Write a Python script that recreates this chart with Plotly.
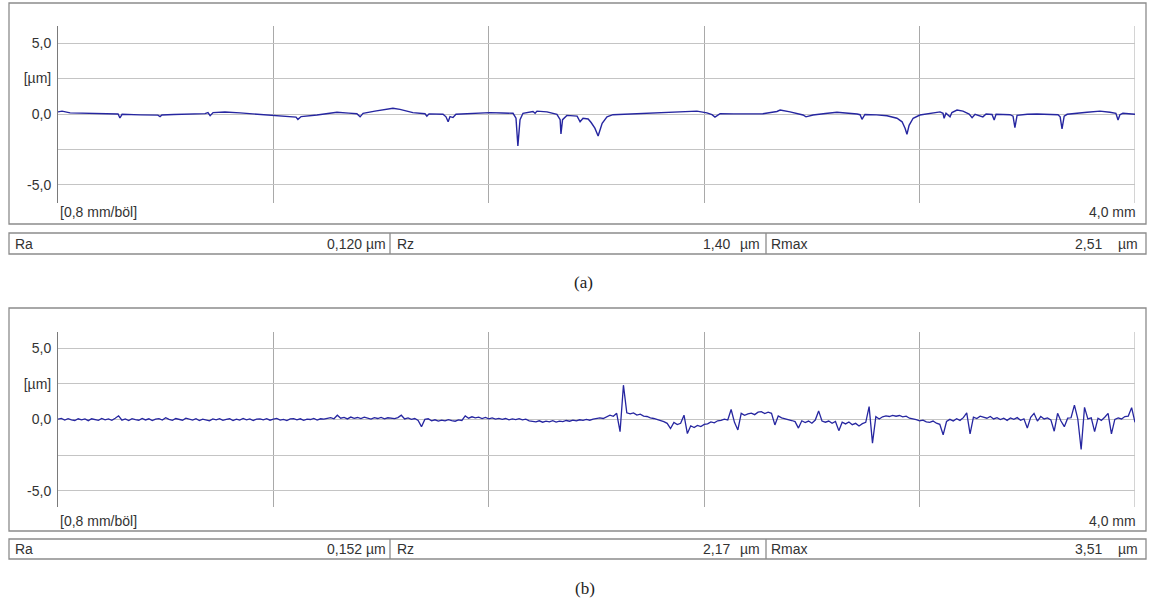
import plotly.graph_objects as go

W, H = 1149, 606

# ---------------- data ----------------
# Profile (a): position along trace [mm] and height [µm]
a_x = [0.000, 0.015, 0.045, 0.100, 0.156, 0.223, 0.230, 0.238, 0.305, 0.371, 0.379, 0.386,
       0.430, 0.472, 0.546, 0.557, 0.565, 0.576, 0.620, 0.676, 0.750, 0.799, 0.843, 0.884,
       0.891, 0.903, 0.962, 1.000, 1.036, 1.080, 1.110, 1.122, 1.133, 1.177, 1.214, 1.244,
       1.270, 1.318, 1.363, 1.370, 1.378, 1.430, 1.441, 1.449, 1.456, 1.467, 1.478, 1.530,
       1.604, 1.650, 1.690, 1.701, 1.708, 1.716, 1.727, 1.764, 1.772, 1.779, 1.816, 1.853,
       1.865, 1.868, 1.874, 1.890, 1.928, 1.939, 1.950, 1.969, 1.980, 1.994, 2.006, 2.021,
       2.039, 2.061, 2.120, 2.188, 2.250, 2.310, 2.373, 2.410, 2.429, 2.440, 2.459, 2.510,
       2.559, 2.618, 2.670, 2.682, 2.719, 2.767, 2.778, 2.804, 2.850, 2.893, 2.968, 2.979,
       2.986, 2.997, 3.040, 3.079, 3.116, 3.135, 3.146, 3.153, 3.161, 3.176, 3.201, 3.239,
       3.276, 3.287, 3.291, 3.298, 3.313, 3.320, 3.339, 3.361, 3.384, 3.395, 3.406, 3.435,
       3.447, 3.469, 3.477, 3.484, 3.536, 3.547, 3.554, 3.562, 3.600, 3.636, 3.680, 3.714,
       3.722, 3.729, 3.737, 3.748, 3.822, 3.870, 3.907, 3.929, 3.937, 3.944, 3.955, 4.000]
a_y = [0.15, 0.20, 0.08, 0.05, 0.03, 0.00, -0.28, -0.02, -0.06, -0.08, -0.18, -0.07,
       -0.04, -0.02, 0.03, 0.10, -0.12, 0.10, 0.14, 0.08, -0.03, -0.12, -0.20, -0.22,
       -0.38, -0.18, -0.07, 0.02, 0.12, 0.06, 0.02, -0.20, 0.05, 0.20, 0.30, 0.40,
       0.33, 0.10, 0.02, -0.15, 0.01, -0.02, -0.20, -0.55, -0.18, -0.25, -0.02, 0.05,
       0.10, 0.07, 0.05, -0.30, -2.25, -0.40, 0.05, 0.18, 0.05, 0.20, 0.15, -0.02,
       -0.40, -1.40, -0.40, -0.10, -0.15, -0.55, -0.30, -0.35, -0.60, -1.00, -1.55, -0.65,
       -0.20, -0.05, 0.00, 0.03, 0.08, 0.15, 0.20, 0.08, -0.05, -0.22, 0.02, 0.01,
       0.00, 0.02, 0.18, 0.28, 0.15, -0.07, -0.20, -0.07, 0.04, 0.12, 0.00, -0.05,
       -0.37, -0.03, -0.06, -0.12, -0.30, -0.55, -1.00, -1.43, -0.80, -0.30, -0.07, 0.05,
       0.15, 0.05, -0.30, 0.05, -0.20, 0.10, 0.28, 0.20, 0.00, -0.26, -0.02, -0.20,
       0.00, -0.03, -0.42, -0.02, -0.05, -0.15, -0.96, -0.10, -0.02, 0.00, -0.03, -0.05,
       -0.20, -1.05, -0.15, -0.02, 0.12, 0.20, 0.12, 0.05, -0.42, -0.05, 0.05, -0.02]

# Profile (b): height [µm], sampled every 0.0125 mm over 4.0 mm
b_step_mm = 0.0125
b_y = [
    0.03, 0.08, -0.04, 0.06, -0.02, -0.07, 0.05, -0.03, 0.04, -0.08, 0.05, 0.01, -0.06, 0.07, -0.03, 0.04, -0.06, 0.09, 0.26, -0.05,
    0.04, -0.07, 0.06, -0.01, -0.05, 0.08, -0.03, 0.05, -0.08, 0.02, 0.06, -0.04, 0.13, 0.01, -0.06, 0.07, 0.02, -0.05, 0.09, 0.01,
    -0.04, 0.06, -0.07, 0.03, -0.01, -0.09, 0.04, -0.03, 0.06, -0.06, 0.01, 0.05, -0.08, 0.03, -0.04, 0.07, -0.02, 0.04, -0.07, 0.03,
    0.05, -0.03, 0.06, -0.05, 0.02, 0.08, -0.04, 0.01, -0.07, 0.04, 0.06, -0.03, 0.05, -0.06, 0.03, 0.00, 0.07, -0.04, 0.05, 0.02,
    0.08, 0.13, 0.05, 0.30, 0.09, 0.15, 0.04, 0.17, 0.08, 0.14, 0.06, 0.16, 0.10, 0.03, 0.13, 0.07, 0.15, 0.05, 0.12, 0.08,
    0.06, 0.13, 0.30, 0.04, 0.11, 0.01, 0.07, -0.06, -0.50, 0.01, 0.05, -0.09, -0.02, -0.11, -0.04, -0.10, -0.01, -0.08, -0.12, -0.03,
    -0.07, 0.25, 0.09, 0.19, 0.11, 0.16, 0.07, 0.14, 0.05, 0.11, 0.03, 0.08, 0.01, 0.07, -0.02, 0.04, -0.01, 0.06, -0.03, 0.02,
    -0.09, -0.13, -0.17, -0.09, -0.19, -0.12, -0.16, -0.08, -0.18, -0.11, -0.15, -0.07, -0.12, -0.05, -0.10, -0.02, -0.06, 0.01, -0.05, 0.03,
    0.05, 0.11, 0.07, 0.21, 0.30, 0.22, 0.43, -0.85, 2.40, 0.47, 0.39, 0.46, 0.31, 0.37, 0.24, 0.21, 0.11, 0.07, 0.01, -0.06,
    -0.15, -0.27, -0.63, -0.21, -0.36, -0.27, 0.30, -0.98, -0.44, -0.56, -0.41, -0.49, -0.34, -0.31, -0.17, -0.23, -0.09, -0.06, 0.03, -0.04,
    0.70, -0.20, -0.73, 0.43, 0.29, 0.39, 0.45, 0.34, 0.51, 0.55, 0.41, 0.51, 0.43, -0.38, 0.25, 0.11, 0.06, -0.01, -0.07, -0.15,
    -0.60, -0.09, -0.21, -0.11, -0.26, -0.04, 0.60, -0.11, -0.19, -0.11, -0.26, -0.14, -0.78, -0.19, -0.31, -0.17, -0.36, -0.27, -0.45, -0.29,
    -0.20, 0.90, -1.65, 0.20, 0.04, 0.19, 0.25, 0.21, 0.29, 0.23, 0.28, 0.19, 0.23, 0.09, 0.06, -0.01, -0.09, -0.04, -0.16, -0.20,
    -0.11, -0.26, -0.34, -1.07, -0.14, 0.01, -0.11, 0.06, -0.06, 0.13, 0.47, -1.00, 0.16, 0.07, 0.23, 0.17, 0.09, 0.21, 0.04, 0.13,
    0.00, 0.09, -0.06, 0.11, 0.01, 0.13, -0.06, 0.05, -0.60, 0.16, 0.43, -0.11, 0.21, 0.04, 0.11, -0.03, -0.82, 0.43, -0.11, -0.50,
    0.09, 0.12, 1.00, 0.05, -2.10, 0.85, 0.04, 0.11, -0.85, 0.09, -0.06, 0.16, 0.43, -1.00, 0.01, 0.11, 0.04, 0.21, 0.24, 0.83, -0.20,
]
b_x = [round(i * b_step_mm, 4) for i in range(len(b_y))]

# ticks / labels
x_grid_mm = [0.8, 1.6, 2.4, 3.2, 4.0]
y_tick_vals = [5.0, 2.5, 0.0, -2.5, -5.0]
y_tick_text = ["5,0", "[µm]", "0,0", "", "-5,0"]
scale_label = "[0,8 mm/böl]"
length_label = "4,0 mm"
stat_names = ["Ra", "Rz", "Rmax"]
stats_a = ["0,120", "1,40", "2,51"]
stats_b = ["0,152", "2,17", "3,51"]
unit = "µm"
panel_captions = ["(a)", "(b)"]

# ---------------- styling ----------------
LINE_COLOR = "#2626a0"
TEXT = "#333333"
BORDER = "#8c8c8c"
SANS = "Liberation Sans, Arial, sans-serif"
SERIF = "Liberation Serif, Times New Roman, serif"
FS = 14


def fx(x):
    return x / W


def fy(y):
    return 1 - y / H


fig = go.Figure()
fig.add_trace(go.Scatter(x=a_x, y=a_y, mode="lines", xaxis="x", yaxis="y",
                         line=dict(color=LINE_COLOR, width=1.4), hoverinfo="skip"))
fig.add_trace(go.Scatter(x=b_x, y=b_y, mode="lines", xaxis="x2", yaxis="y2",
                         line=dict(color=LINE_COLOR, width=1.3), hoverinfo="skip"))

# panel geometry (px, from top)
panels = [
    dict(box=(9, 3, 1146, 224), axis=(26, 203), yr=[-6.27, 6.2], lab=212,
         stat=(9, 233, 1146, 254), cap=(583, 282), vals=stats_a),
    dict(box=(9, 308, 1146, 531), axis=(332, 507), yr=[-6.12, 6.12], lab=521,
         stat=(9, 539, 1146, 559), cap=(585, 588), vals=stats_b),
]

x_dom = [fx(58), fx(1135)]
layout_axes = {}
shapes = []
annotations = []
for k, p in enumerate(panels):
    sx = "" if k == 0 else "2"
    layout_axes["xaxis" + sx] = dict(
        domain=x_dom, range=[0, 4.0], tickvals=x_grid_mm, showticklabels=False,
        showgrid=True, gridcolor="#a9a9a9", gridwidth=1, zeroline=False,
        showline=False, ticks="", anchor="y" + sx, fixedrange=True)
    layout_axes["yaxis" + sx] = dict(
        domain=[fy(p["axis"][1]), fy(p["axis"][0])], range=p["yr"],
        tickvals=y_tick_vals, ticktext=y_tick_text, showgrid=True,
        gridcolor="#c4c4c4", gridwidth=1, zeroline=False, showline=True,
        linecolor="#7a7a7a", linewidth=1, ticks="outside", ticklen=3,
        tickcolor="rgba(0,0,0,0)", tickfont=dict(family=SANS, size=FS, color=TEXT),
        anchor="x" + sx, fixedrange=True)

    # right-end vertical line at 4,0 mm
    shapes.append(dict(type="line", xref="x" + sx, yref="y" + sx + " domain", x0=4.0, x1=4.0,
                       y0=0, y1=1, line=dict(color="#a9a9a9", width=1), layer="below"))

    x0, y0, x1, y1 = p["box"]
    shapes.append(dict(type="rect", xref="paper", yref="paper", x0=fx(x0), x1=fx(x1),
                       y0=fy(y1), y1=fy(y0), line=dict(color=BORDER, width=1.3)))
    sx0, sy0, sx1, sy1 = p["stat"]
    shapes.append(dict(type="rect", xref="paper", yref="paper", x0=fx(sx0), x1=fx(sx1),
                       y0=fy(sy1), y1=fy(sy0), line=dict(color=BORDER, width=1.3)))
    for dx in (390, 766):
        shapes.append(dict(type="line", xref="paper", yref="paper", x0=fx(dx), x1=fx(dx),
                           y0=fy(sy1), y1=fy(sy0), line=dict(color=BORDER, width=1.3)))

    font = dict(family=SANS, size=FS, color=TEXT)
    annotations.append(dict(text=scale_label, x=fx(58), y=fy(p["lab"]), xref="paper", yref="paper",
                            xanchor="left", yanchor="middle", showarrow=False, font=font))
    annotations.append(dict(text=length_label, x=fx(1138), y=fy(p["lab"]), xref="paper", yref="paper",
                            xanchor="right", yanchor="middle", showarrow=False, font=font))
    sy = (sy0 + sy1) / 2
    name_x = [13, 395, 769]
    for i, nm in enumerate(stat_names):
        annotations.append(dict(text=nm, x=fx(name_x[i]), y=fy(sy), xref="paper", yref="paper",
                                xanchor="left", yanchor="middle", showarrow=False, font=font))
    v = p["vals"]
    annotations.append(dict(text=v[0] + " " + unit, x=fx(388), y=fy(sy), xref="paper", yref="paper",
                            xanchor="right", yanchor="middle", showarrow=False, font=font))
    annotations.append(dict(text=v[1], x=fx(732), y=fy(sy), xref="paper", yref="paper",
                            xanchor="right", yanchor="middle", showarrow=False, font=font))
    annotations.append(dict(text=unit, x=fx(762), y=fy(sy), xref="paper", yref="paper",
                            xanchor="right", yanchor="middle", showarrow=False, font=font))
    annotations.append(dict(text=v[2], x=fx(1104), y=fy(sy), xref="paper", yref="paper",
                            xanchor="right", yanchor="middle", showarrow=False, font=font))
    annotations.append(dict(text=unit, x=fx(1140), y=fy(sy), xref="paper", yref="paper",
                            xanchor="right", yanchor="middle", showarrow=False, font=font))
    cx, cy = p["cap"]
    annotations.append(dict(text=panel_captions[k], x=fx(cx), y=fy(cy), xref="paper", yref="paper",
                            xanchor="center", yanchor="middle", showarrow=False,
                            font=dict(family=SERIF, size=17, color="#222222")))

fig.update_layout(
    width=W, height=H, autosize=False,
    margin=dict(l=0, r=0, t=0, b=0),
    paper_bgcolor="white", plot_bgcolor="white",
    showlegend=False, shapes=shapes, annotations=annotations,
    **layout_axes,
)

fig.write_html("out.html", config={"displayModeBar": False})
